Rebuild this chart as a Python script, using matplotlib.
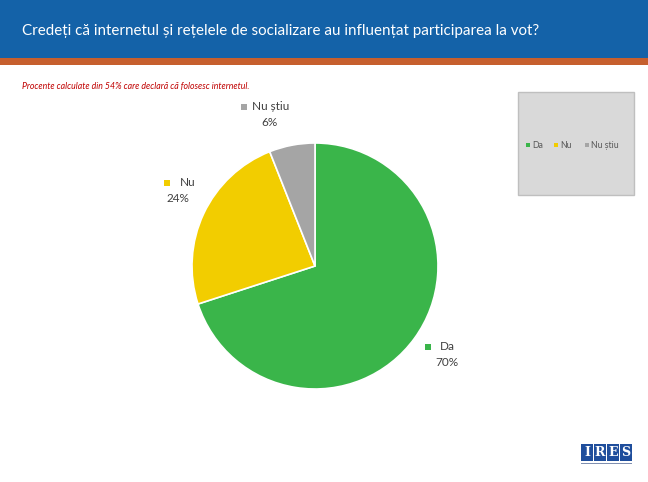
import matplotlib
matplotlib.use("Agg")
import matplotlib.pyplot as plt
from matplotlib.patches import Rectangle

plt.rcParams['font.family'] = ['Lato', 'DejaVu Sans']

# --- date ---
categorii = ['Da', 'Nu', 'Nu știu']
procente = [70, 24, 6]
culori = ['#3ab54a', '#f2cd00', '#a5a5a5']

titlu = 'Credeți că internetul și rețelele de socializare au influențat participarea la vot?'
nota = 'Procente calculate din 54% care declară că folosesc internetul.'

W, H = 648, 482
fig = plt.figure(figsize=(W / 100, H / 100), dpi=100)


def px(x, y):
    # coordonate in pixeli (de sus) -> coordonate figura
    return x / W, 1 - y / H


# banda albastra + linia portocalie
fig.patches.append(Rectangle((0, 1 - 58 / H), 1, 58 / H, transform=fig.transFigure,
                             facecolor='#1462a8', edgecolor='none'))
fig.patches.append(Rectangle((0, 1 - 65 / H), 1, 7 / H, transform=fig.transFigure,
                             facecolor='#c65f2e', edgecolor='none'))
fig.text(*px(22, 31), titlu, color='white', fontsize=10.9, va='center', ha='left')
fig.text(*px(22, 86), nota, color='#c00000', fontsize=6.3, style='italic', va='center', ha='left')

# --- pie ---
cx, cy, r = 315, 266, 123
ax = fig.add_axes([(cx - r) / W, (H - cy - r) / H, 2 * r / W, 2 * r / H])
ax.pie(procente, colors=culori, startangle=90, counterclock=False, radius=1,
       wedgeprops=dict(edgecolor='white', linewidth=1.2))
ax.set_xlim(-1, 1)
ax.set_ylim(-1, 1)
ax.set_aspect('equal')
ax.axis('off')

# etichete (marker x, y, nume x, procent x centru)
etichete_poz = [(428, 347, 440, 447), (167, 183, 180, 178), (244, 107, 252, 270)]
for cat, val, col, (mx, my, tx, vx) in zip(categorii, procente, culori, etichete_poz):
    fig.patches.append(Rectangle(px(mx - 3, my + 3), 6 / W, 6 / H, transform=fig.transFigure,
                                 facecolor=col, edgecolor='none'))
    fig.text(*px(tx, my), cat, color='#404040', fontsize=8.5, ha='left', va='center')
    fig.text(*px(vx, my + 16), f'{val}%', color='#404040', fontsize=8.5, ha='center', va='center')

# legenda
fig.patches.append(Rectangle(px(518, 195), 116 / W, 103 / H, transform=fig.transFigure,
                             facecolor='#d9d9d9', edgecolor='#bfbfbf', linewidth=1))
leg_x = [528, 556, 587]
for cat, col, lx in zip(categorii, culori, leg_x):
    fig.patches.append(Rectangle(px(lx - 2, 147), 4 / W, 4 / H, transform=fig.transFigure,
                                 facecolor=col, edgecolor='none'))
    fig.text(*px(lx + 4, 145), cat, color='#595959', fontsize=6.3, ha='left', va='center')

# logo IRES
for i, lit in enumerate('IRES'):
    x0 = 581 + i * 13
    fig.patches.append(Rectangle(px(x0, 461), 12 / W, 17 / H, transform=fig.transFigure,
                                 facecolor='#1f4e9c', edgecolor='none'))
    fig.text(*px(x0 + 6, 452.5), lit, color='white', fontsize=9, fontweight='bold',
             family='DejaVu Serif', ha='center', va='center')
fig.patches.append(Rectangle(px(581, 464), 51 / W, 1 / H, transform=fig.transFigure,
                             facecolor='#7f8fb0', edgecolor='none'))

fig.savefig('out.png', dpi=100)
